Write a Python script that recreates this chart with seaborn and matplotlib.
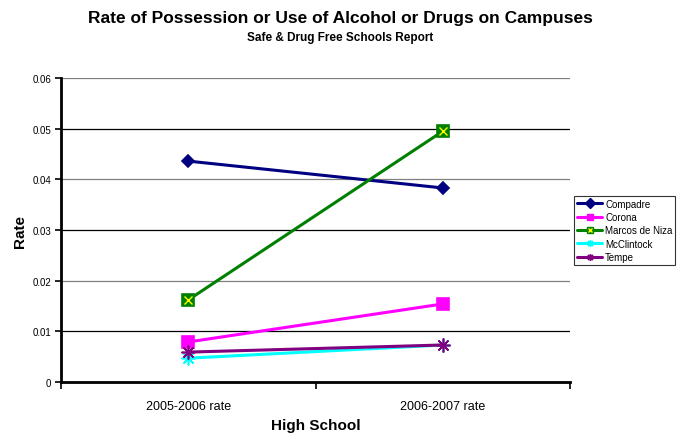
import numpy as np
import pandas as pd
import matplotlib
matplotlib.use("Agg")
import matplotlib.pyplot as plt
import seaborn as sns
from matplotlib.lines import Line2D

periods = ["2005-2006 rate", "2006-2007 rate"]
schools = ["Compadre", "Corona", "Marcos de Niza", "McClintock", "Tempe"]
compadre = [0.0436, 0.0383]
corona = [0.0079, 0.0154]
marcos = [0.0162, 0.0495]
mcclintock = [0.0047, 0.0073]
tempe = [0.0059, 0.0073]

colors = ["#000080", "#FF00FF", "#008000", "#00FFFF", "#800080"]
markers = ["D", "s", "s", (8, 2, 0), (8, 2, 0)]
msizes = [6, 8, 8, 10, 10]

sns.set_style("white", {"xtick.bottom": True, "ytick.left": True,
                        "text.color": "black", "axes.labelcolor": "black",
                        "xtick.color": "black", "ytick.color": "black"})
plt.rcParams["font.family"] = ["Liberation Sans", "DejaVu Sans"]

rows = []
for s, vals in zip(schools, [compadre, corona, marcos, mcclintock, tempe]):
    for i, v in enumerate(vals):
        rows.append({"School": s, "pos": i, "Rate": v})
df = pd.DataFrame(rows)

fig = plt.figure(figsize=(6.81, 4.39), dpi=100)
ax = fig.add_axes([0.0896, 0.1276, 0.7474, 0.6924])

yticks = np.arange(0, 0.061, 0.01)
# gridlines alternate grey / black like the original
for i, yv in enumerate(yticks[1:], start=1):
    ax.axhline(yv, color="#808080" if i % 2 == 0 else "black", linewidth=0.9, zorder=0)

for s, c, m, ms in zip(schools, colors, markers, msizes):
    d = df[df["School"] == s]
    sns.lineplot(data=d, x="pos", y="Rate", color=c, marker=m, markersize=ms,
                 markeredgecolor=c, markeredgewidth=1.2, linewidth=2.2, ax=ax,
                 legend=False)
    if s == "Marcos de Niza":
        ax.plot(d["pos"], d["Rate"], linestyle="none", marker="x", color="yellow",
                markersize=6, markeredgewidth=1)

ax.set_xlim(-0.5, 1.5)
ax.set_ylim(0, 0.06)
ax.set_yticks(yticks)
ax.set_yticklabels(["0", "0.01", "0.02", "0.03", "0.04", "0.05", "0.06"], fontsize=7)
ax.set_xticks([0, 1])
ax.set_xticklabels(periods, fontsize=9)
ax.set_xticks([-0.5, 0.5, 1.5], minor=True)
ax.tick_params(axis="x", which="major", length=0, pad=13)
ax.tick_params(axis="x", which="minor", bottom=True, length=5, width=1.2,
               direction="out", color="black")
ax.tick_params(axis="y", left=True, length=4, width=1.2, direction="out",
               color="black", pad=3)
ax.grid(False)

for side in ["top", "right"]:
    ax.spines[side].set_visible(False)
for side in ["left", "bottom"]:
    ax.spines[side].set_color("black")
    ax.spines[side].set_linewidth(2)

ax.set_xlabel("High School", fontsize=11, fontweight="bold", labelpad=4)
ax.set_ylabel("Rate", fontsize=11, fontweight="bold", labelpad=4)

fig.text(0.5, 0.958, "Rate of Possession or Use of Alcohol or Drugs on Campuses",
         ha="center", va="center", fontsize=12.5, fontweight="bold", color="black")
fig.text(0.5, 0.914, "Safe & Drug Free Schools Report",
         ha="center", va="center", fontsize=8.5, fontweight="bold", color="black")

handles = []
for s, c, m in zip(schools, colors, markers):
    if s == "Marcos de Niza":
        handles.append((Line2D([], [], color=c, marker=m, markersize=5, linewidth=2.2),
                        Line2D([], [], color="yellow", marker="x", linestyle="none",
                               markersize=3.5)))
    else:
        handles.append(Line2D([], [], color=c, marker=m, markersize=5, markeredgecolor=c,
                              linewidth=2.2))
leg = fig.legend(handles, schools, loc="upper left", bbox_to_anchor=(0.843, 0.552),
                 fontsize=7, frameon=True, fancybox=False, edgecolor="black",
                 handlelength=2.6, handletextpad=0.3, borderpad=0.3, labelspacing=0.35,
                 borderaxespad=0)
leg.get_frame().set_linewidth(0.8)
for t in leg.get_texts():
    t.set_color("black")

fig.savefig("out.png", dpi=100, facecolor="white")
